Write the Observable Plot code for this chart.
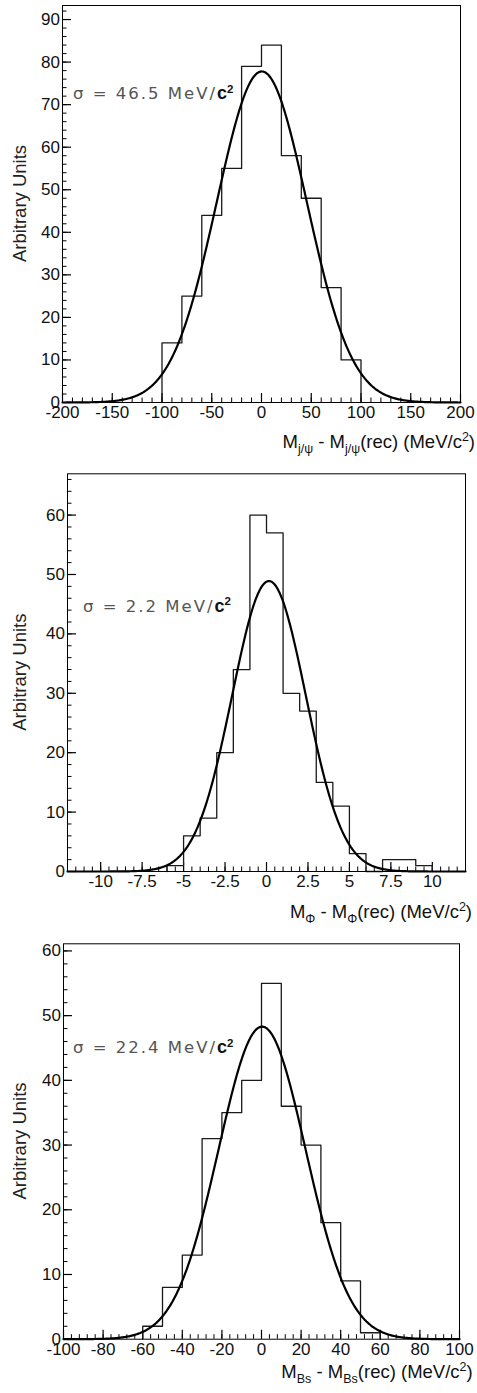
<!DOCTYPE html>
<html><head><meta charset="utf-8">
<script src="https://cdn.jsdelivr.net/npm/d3@7"></script>
<script src="https://cdn.jsdelivr.net/npm/@observablehq/plot@0.6"></script>
<style>
body{margin:0;background:#fff;}
#wrap{position:relative;width:477px;height:1393px;overflow:hidden;}
#wrap > svg{position:absolute;left:0;}
</style></head><body><div id="wrap"></div>
<script>
// ---------- Panel 1: J/psi ----------
const jpsiEdges  = [-100, -80, -60, -40, -20, 0, 20, 40, 60, 80, 100];
const jpsiCounts = [14, 25, 44, 55, 79, 84, 58, 48, 27, 10];
const jpsiFitAmp = 77.8, jpsiFitMean = 0.3, jpsiFitSigma = 45.2;
const jpsiXTicks = [-200, -150, -100, -50, 0, 50, 100, 150, 200];
const jpsiYTicks = [0, 10, 20, 30, 40, 50, 60, 70, 80, 90];
const jpsiSigmaLabel = "σ = 46.5 MeV/";

// ---------- Panel 2: phi ----------
const phiEdges  = [-6, -5, -4, -3, -2, -1, 0, 1, 2, 3, 4, 5, 6, 7, 8, 9, 10];
const phiCounts = [1, 6, 9, 20, 34, 60, 57, 30, 27, 15, 11, 3, 0, 2, 2, 1];
const phiFitAmp = 48.9, phiFitMean = 0.15, phiFitSigma = 2.22;
const phiXTicks = [-10, -7.5, -5, -2.5, 0, 2.5, 5, 7.5, 10];
const phiYTicks = [0, 10, 20, 30, 40, 50, 60];
const phiSigmaLabel = "σ = 2.2 MeV/";

// ---------- Panel 3: Bs ----------
const bsEdges  = [-60, -50, -40, -30, -20, -10, 0, 10, 20, 30, 40, 50, 60];
const bsCounts = [2, 8, 13, 31, 35, 40, 55, 36, 30, 18, 9, 1];
const bsFitAmp = 48.3, bsFitMean = 0.3, bsFitSigma = 22.0;
const bsXTicks = [-100, -80, -60, -40, -20, 0, 20, 40, 60, 80, 100];
const bsYTicks = [0, 10, 20, 30, 40, 50, 60];
const bsSigmaLabel = "σ = 22.4 MeV/";

const wrap = document.getElementById("wrap");
const W = 477;
const FONT = "'Liberation Sans', Arial, Helvetica, sans-serif";

function stepPoints(edges, counts) {
  const pts = [{x: edges[0], y: 0}];
  counts.forEach((c, i) => pts.push({x: edges[i], y: c}));
  pts.push({x: edges[edges.length - 1], y: 0});
  return pts;
}

function fitPoints(amp, mean, sigma, domain, n) {
  const step = (domain[1] - domain[0]) / n;
  return d3.range(n + 1).map(i => {
    const x = domain[0] + i * step;
    return {x, y: amp * Math.exp(-0.5 * ((x - mean) / sigma) ** 2)};
  });
}

function panel(cfg) {
  const fw = W - cfg.ml - cfg.mr;
  const fh = cfg.h - cfg.mt - cfg.mb;
  const xMinor = d3.range(cfg.xDomain[0], cfg.xDomain[1] + 1e-9, cfg.xMinorStep);
  const yMinor = d3.range(0, cfg.yMax, cfg.yMinorStep);
  const svg = Plot.plot({
    width: W, height: cfg.h,
    marginLeft: cfg.ml, marginRight: cfg.mr, marginTop: cfg.mt, marginBottom: cfg.mb,
    style: {fontFamily: FONT, fontSize: "17px", color: "#000", background: "transparent", overflow: "visible"},
    x: {domain: cfg.xDomain},
    y: {domain: [0, cfg.yMax]},
    marks: [
      Plot.tickX(xMinor, {x: d => d, insetTop: fh - 4.5, stroke: "#000", strokeWidth: 1}),
      Plot.tickX(cfg.xTicks, {x: d => d, insetTop: fh - 9, stroke: "#000", strokeWidth: 1.2}),
      Plot.tickY(yMinor, {y: d => d, insetRight: fw - 4.5, stroke: "#000", strokeWidth: 1}),
      Plot.tickY(cfg.yTicks, {y: d => d, insetRight: fw - 9, stroke: "#000", strokeWidth: 1.2}),
      Plot.axisX({ticks: cfg.xTicks, tickSize: 0, tickPadding: 3.5, tickFormat: d => String(d), label: null, fontSize: 17, fill: "#111"}),
      Plot.axisY({ticks: cfg.yTicks, tickSize: 0, tickPadding: 2.5, tickFormat: d => String(d), label: null, fontSize: 17, fill: "#111"}),
      Plot.line(stepPoints(cfg.edges, cfg.counts), {x: "x", y: "y", curve: "step-after", stroke: "#1a1a1a", strokeWidth: 1.3}),
      Plot.line(fitPoints(cfg.amp, cfg.mean, cfg.sigma, cfg.xDomain, 400), {x: "x", y: "y", stroke: "#000", strokeWidth: 2.2}),
      Plot.frame({stroke: "#000", strokeWidth: 1})
    ]
  });
  svg.style.top = cfg.top + "px";
  const s = d3.select(svg);
  // y axis title
  s.append("text")
    .attr("transform", `translate(25.5,${cfg.mt + fh / 2}) rotate(-90)`)
    .attr("text-anchor", "middle").attr("font-family", FONT).attr("font-size", 18.5).attr("fill", "#222")
    .text("Arbitrary Units");
  // sigma annotation
  const t = s.append("text")
    .attr("x", cfg.sigX).attr("y", cfg.sigY).attr("text-anchor", "start")
    .attr("font-family", "'DejaVu Sans', sans-serif").attr("font-size", 16.5)
    .attr("letter-spacing", "2px").attr("fill", "#555");
  t.append("tspan").text(cfg.sigma_label);
  t.append("tspan").attr("font-weight", "bold").attr("fill", "#111").attr("font-family", FONT).attr("letter-spacing", "0px").attr("font-size", 18).text("c");
  t.append("tspan").attr("font-weight", "bold").attr("fill", "#111").attr("font-size", 11.5).attr("dy", -6.5).attr("font-family", FONT).attr("letter-spacing", "0px").text("2");
  // x axis title
  const x = s.append("text")
    .attr("x", cfg.titleX).attr("y", cfg.titleY).attr("text-anchor", "end")
    .attr("font-family", FONT).attr("font-size", 18.5).attr("fill", "#111");
  x.append("tspan").text("M");
  x.append("tspan").attr("font-size", 12.5).attr("dy", 5).text(cfg.sub);
  x.append("tspan").attr("dy", -5).text(" - M");
  x.append("tspan").attr("font-size", 12.5).attr("dy", 5).text(cfg.sub);
  x.append("tspan").attr("dy", -5).text("(rec) (MeV/c");
  x.append("tspan").attr("font-size", 12.5).attr("dy", -7).text("2");
  x.append("tspan").attr("dy", 7).text(")");
  wrap.appendChild(svg);
}

panel({top: 0, h: 462, ml: 62, mr: 17, mt: 5, mb: 60,
  xDomain: [-200, 200], yMax: 93.3, xTicks: jpsiXTicks, yTicks: jpsiYTicks, xMinorStep: 10, yMinorStep: 2,
  edges: jpsiEdges, counts: jpsiCounts, amp: jpsiFitAmp, mean: jpsiFitMean, sigma: jpsiFitSigma,
  sigma_label: jpsiSigmaLabel, sigX: 73, sigY: 99, sub: "j/ψ", titleX: 475, titleY: 448});

panel({top: 460, h: 468, ml: 67, mr: 12, mt: 13.3, mb: 57,
  xDomain: [-12, 12], yMax: 66.95, xTicks: phiXTicks, yTicks: phiYTicks, xMinorStep: 0.5, yMinorStep: 2,
  edges: phiEdges, counts: phiCounts, amp: phiFitAmp, mean: phiFitMean, sigma: phiFitSigma,
  sigma_label: phiSigmaLabel, sigX: 83, sigY: 151.7, sub: "Φ", titleX: 472, titleY: 457.7});

panel({top: 925, h: 468, ml: 63, mr: 18, mt: 18.3, mb: 54.3,
  xDomain: [-100, 100], yMax: 61.1, xTicks: bsXTicks, yTicks: bsYTicks, xMinorStep: 4, yMinorStep: 2,
  edges: bsEdges, counts: bsCounts, amp: bsFitAmp, mean: bsFitMean, sigma: bsFitSigma,
  sigma_label: bsSigmaLabel, sigX: 73, sigY: 128.3, sub: "Bs", titleX: 472.7, titleY: 453.3});
</script>
</body></html>
